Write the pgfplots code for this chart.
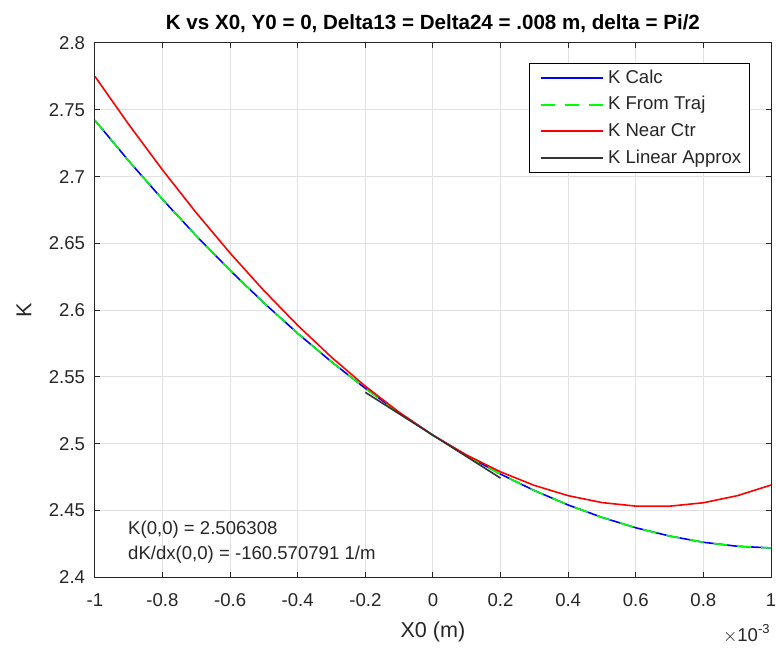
\documentclass[border=0pt]{standalone}
\usepackage{fontspec}
\setmainfont{Liberation Sans}
\usepackage{pgfplots}
\pgfplotsset{compat=1.18}
\definecolor{axgray}{RGB}{38,38,38}
\definecolor{gridgray}{RGB}{225,225,225}
\newcommand\lstrut{\rule[-1.9pt]{0pt}{8.6pt}}

\begin{document}
\begin{tikzpicture}
\begin{axis}[
  name=ax, clip mode=individual,
  scale only axis, width=338.5pt, height=267.5pt,
  xmin=-0.001, xmax=0.001, ymin=2.4, ymax=2.8,
  xtick={-0.001,-0.0008,-0.0006,-0.0004,-0.0002,0,0.0002,0.0004,0.0006,0.0008,0.001},
  xticklabels={-1,-0.8,-0.6,-0.4,-0.2,0,0.2,0.4,0.6,0.8,1},
  scaled x ticks=false,
  ytick={2.4,2.45,...,2.8},
  yticklabel style={/pgf/number format/fixed,/pgf/number format/precision=2, xshift=-1.4pt},
  xticklabel style={yshift=-4.5pt},
  /pgf/number format/assume math mode=true,
  tick label style={font=\fontsize{9.3}{11}\selectfont, text=axgray},
  grid=major, major grid style={gridgray, line width=0.45pt},
  axis line style={axgray, line width=0.5pt},
  tick style={axgray, line width=0.5pt},
  major tick length=2.5pt, tick align=inside,
  title={\bfseries K vs X0, Y0 = 0, Delta13 = Delta24 = .008 m, delta = Pi/2},
  every axis title/.style={font=\fontsize{10.3}{12}\selectfont, text=black,
    at={([yshift=6.5pt]rel axis cs:0.5,1)}, anchor=base},
  xlabel={X0 (m)}, ylabel={K},
  every axis x label/.style={font=\fontsize{10.8}{12}\selectfont, text=axgray,
    at={([yshift=-30pt]rel axis cs:0.5,0)}, anchor=base},
  every axis y label/.style={font=\fontsize{10.8}{12}\selectfont, text=axgray,
    at={([xshift=-35.5pt]rel axis cs:0,0.5)}, anchor=center, rotate=90},
  legend style={at={(0.9685,0.9632)}, anchor=north east, draw=black, line width=0.5pt,
    font=\fontsize{9.3}{11}\selectfont, text=axgray, fill=white,
    row sep=1.1pt, inner xsep=5pt, inner ysep=1.35pt},
  legend cell align=left,
  legend image code/.code={\draw[#1, line width=0.85pt] (0pt,0pt) -- (31.3pt,0pt);},
]
\addplot[blue, line width=0.8pt] coordinates {
(-0.0010,2.742079) (-0.0009,2.711734) (-0.0008,2.682893) (-0.0007,2.655556) (-0.0006,2.629723)
(-0.0005,2.605394) (-0.0004,2.582568) (-0.0003,2.561247) (-0.0002,2.541430) (-0.0001,2.523117)
(0,2.506308) (0.0001,2.491003) (0.0002,2.477202) (0.0003,2.464905) (0.0004,2.454112)
(0.0005,2.444822) (0.0006,2.437037) (0.0007,2.430856) (0.0008,2.426179) (0.0009,2.423206)
(0.0010,2.421937)};
\addlegendentry{\lstrut K Calc}
\addplot[green, line width=0.8pt, dash pattern=on 7pt off 5pt] coordinates {
(-0.0010,2.742079) (-0.0009,2.711734) (-0.0008,2.682893) (-0.0007,2.655556) (-0.0006,2.629723)
(-0.0005,2.605394) (-0.0004,2.582568) (-0.0003,2.561247) (-0.0002,2.541430) (-0.0001,2.523117)
(0,2.506308) (0.0001,2.491003) (0.0002,2.477202) (0.0003,2.464905) (0.0004,2.454112)
(0.0005,2.444822) (0.0006,2.437037) (0.0007,2.430856) (0.0008,2.426179) (0.0009,2.423206)
(0.0010,2.421937)};
\addlegendentry{\lstrut K From Traj}
\addplot[red, line width=0.8pt] coordinates {
(-0.0010,2.775009) (-0.0009,2.739020) (-0.0008,2.704937) (-0.0007,2.672804) (-0.0006,2.642668)
(-0.0005,2.614573) (-0.0004,2.588564) (-0.0003,2.564688) (-0.0002,2.542989) (-0.0001,2.523514)
(0,2.506308) (0.0001,2.491416) (0.0002,2.478883) (0.0003,2.468754) (0.0004,2.461076)
(0.0005,2.455893) (0.0006,2.453252) (0.0007,2.453198) (0.0008,2.455775) (0.0009,2.461030)
(0.0010,2.469007)};
\addlegendentry{\lstrut K Near Ctr}
\addplot[black!80, line width=0.8pt] coordinates {(-0.0002,2.538422) (0.0002,2.474194)};
\addlegendentry{\lstrut K Linear Approx\hspace*{-3pt}}
\node[anchor=base west, inner sep=0pt, font=\fontsize{9.3}{11}\selectfont, text=axgray]
  at ([xshift=16.5pt,yshift=21.5pt]rel axis cs:0,0) {K(0,0) = 2.506308};
\node[anchor=base west, inner sep=0pt, font=\fontsize{9.3}{11}\selectfont, text=axgray]
  at ([xshift=16.5pt,yshift=9pt]rel axis cs:0,0) {dK/dx(0,0) = -160.570791 1/m};
\node[anchor=base east, font=\fontsize{9.3}{11}\selectfont, text=axgray, inner sep=0pt]
  at ([yshift=-32pt]rel axis cs:1,0) {$\times$10\textsuperscript{-3}};
\end{axis}
\pgfresetboundingbox
\path[use as bounding box] ([shift={(-47.5pt,-37pt)}]ax.south west) rectangle ([shift={(2.5pt,21.5pt)}]ax.north east);
\end{tikzpicture}
\end{document}
